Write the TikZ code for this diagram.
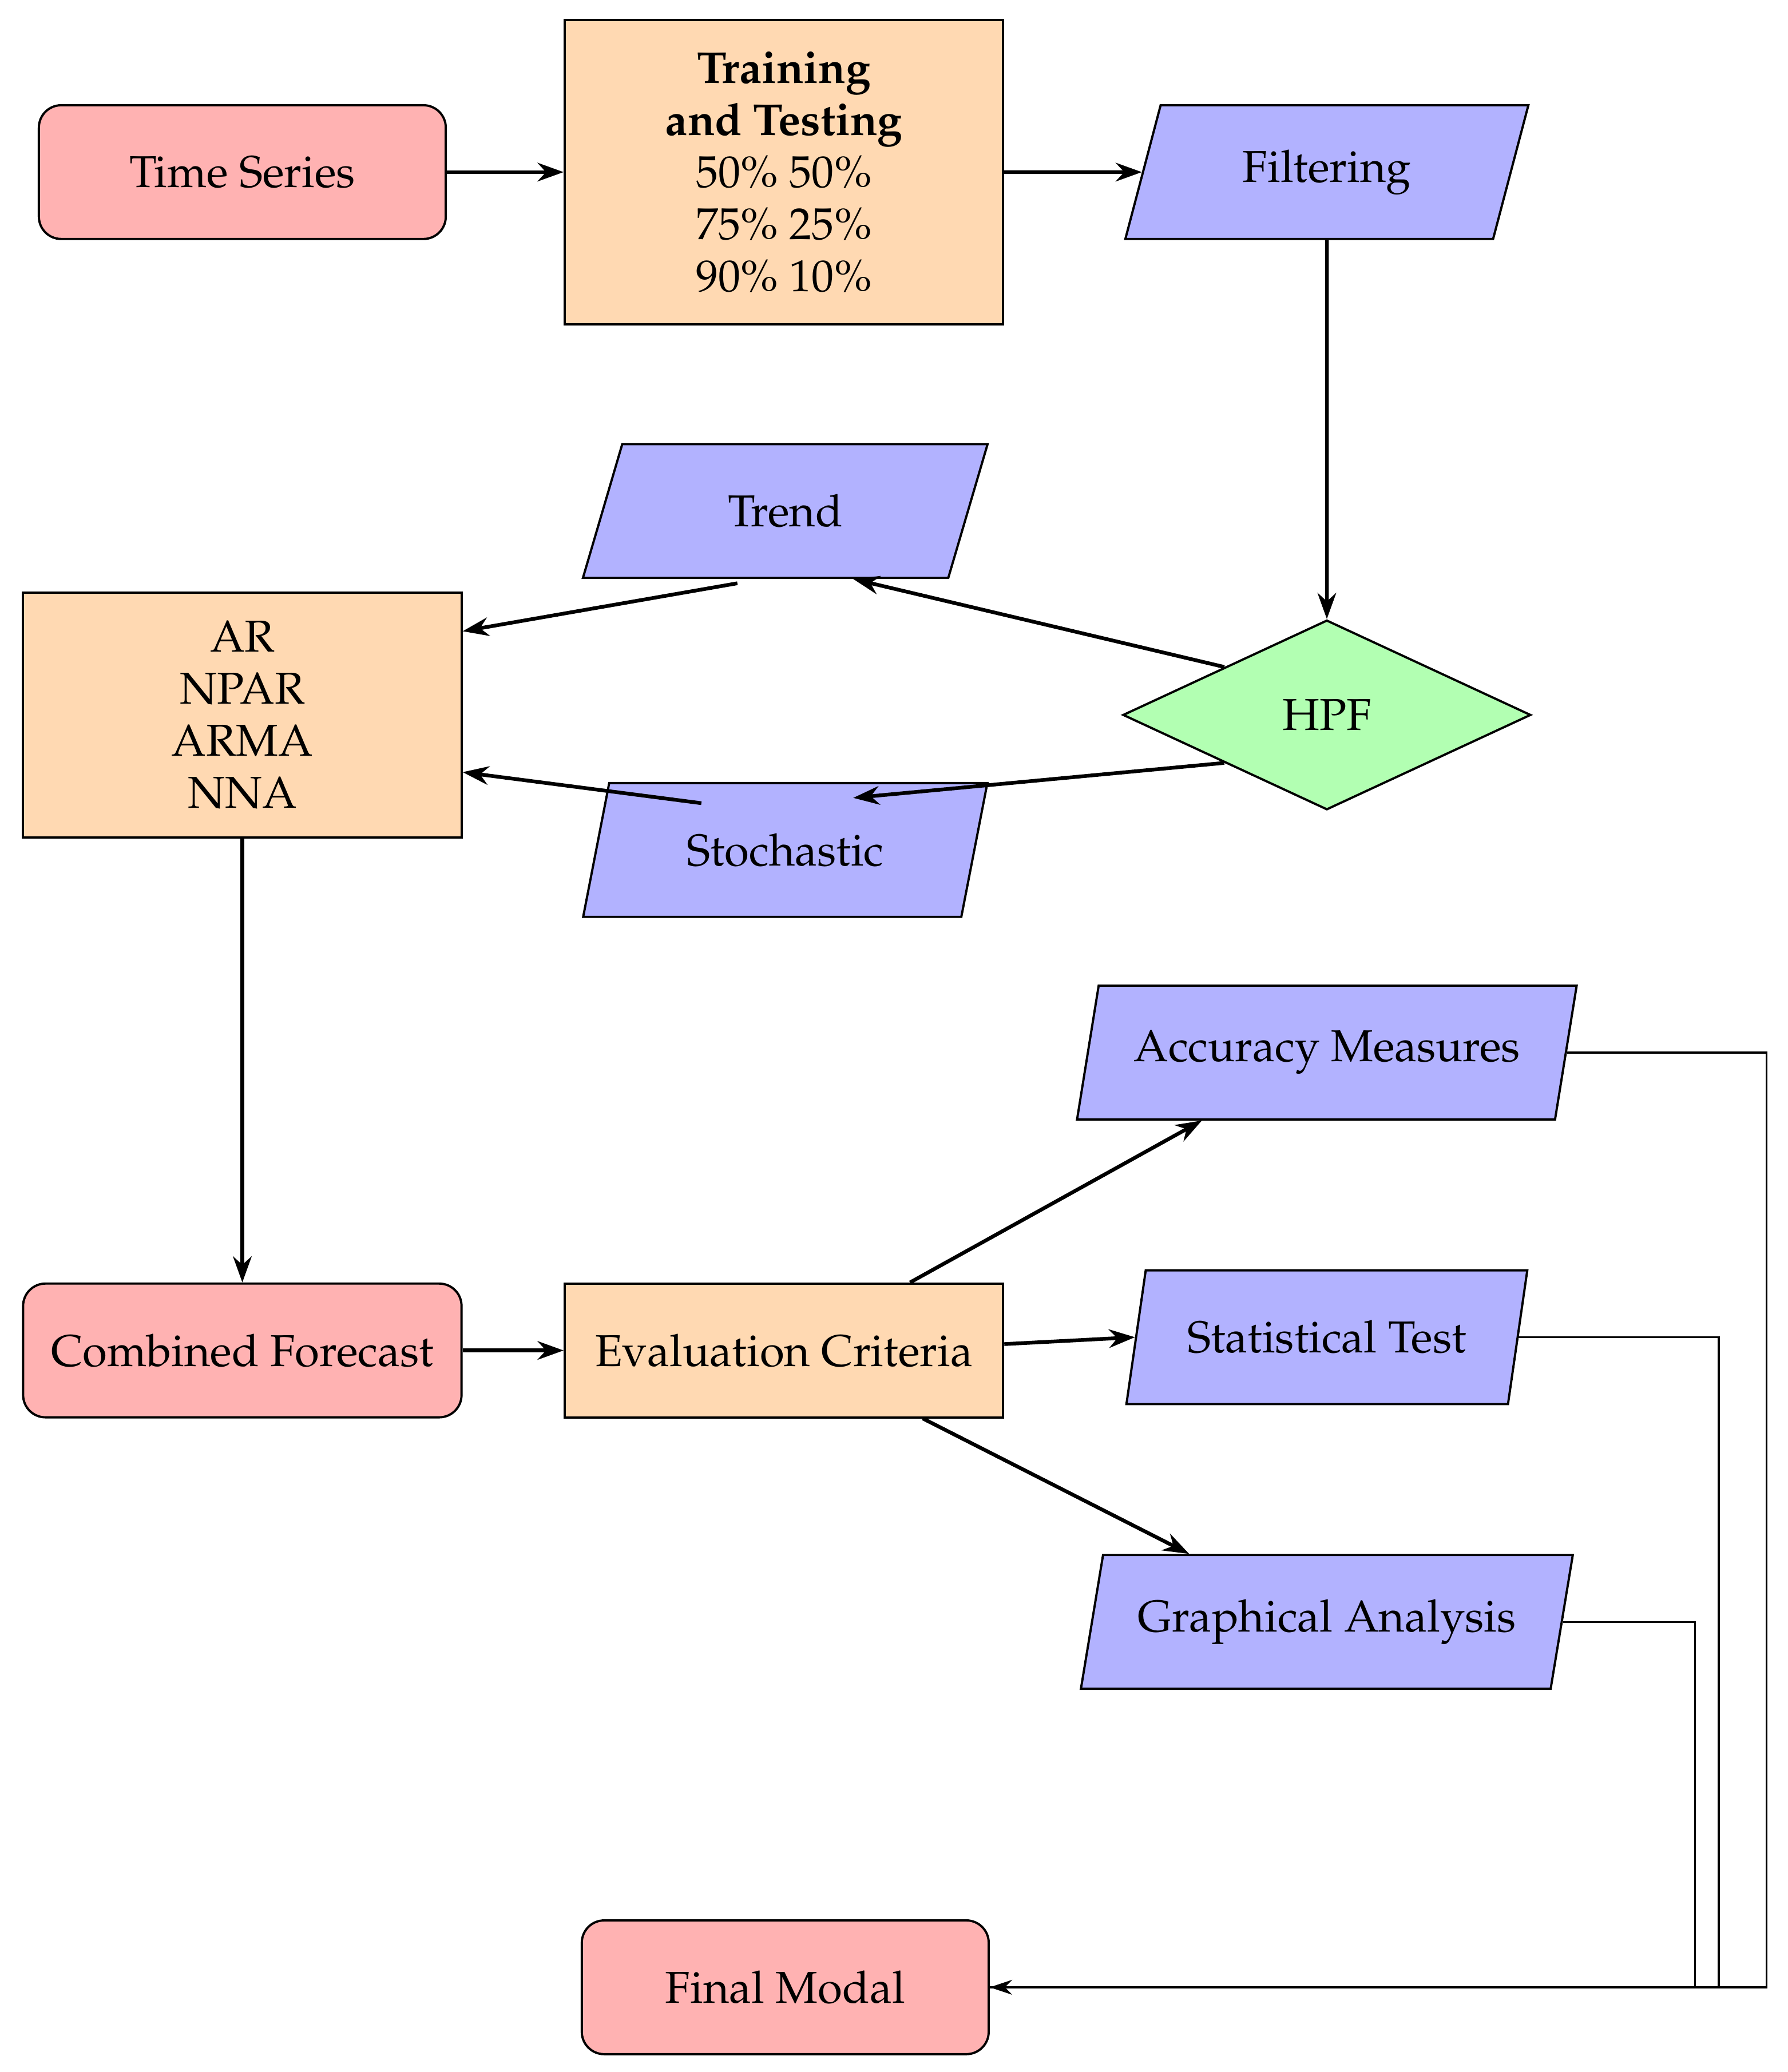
\documentclass[tikz,border=0pt]{standalone}
\usepackage[T1]{fontenc}
\usepackage{mathpazo}
\usetikzlibrary{shapes.geometric,arrows.meta,calc}
\begin{document}
\begin{tikzpicture}[x=0.0125cm,y=-0.0125cm,font=\large,
  base/.style={draw,line width=0.6pt,align=center,inner sep=2pt},
  term/.style={base,rectangle,rounded corners=6pt,fill=red!30,minimum width=3.84cm,minimum height=1.2625cm},
  proc/.style={base,rectangle,fill=orange!30,minimum width=4.1375cm},
  io/.style={base,trapezium,trapezium left angle=72,trapezium right angle=108,trapezium stretches=true,fill=blue!30,minimum width=3.82cm,minimum height=1.2625cm},
  dec/.style={base,diamond,fill=green!30,minimum width=3.85cm,minimum height=1.79cm},
  arr/.style={-{Stealth[length=7pt,width=5pt]},line width=1pt},
  thinarr/.style={-{Stealth[length=6pt,width=4pt]},line width=0.5pt}]
\useasboundingbox (0,0) rectangle (1350,1565);
\node[term] (ts) at (183,130) {Time Series};
\node[proc,minimum height=2.875cm] (tt) at (592,130) {\textbf{Training}\\\textbf{and Testing}\\50\% 50\%\\75\% 25\%\\90\% 10\%};
\node[io] (filt) at (1002,130) {Filtering};
\node[io] (trend) at (593,386) {Trend};
\node[proc,minimum height=2.31cm] (ar) at (183,540) {AR\\NPAR\\ARMA\\NNA};
\node[dec] (hpf) at (1002,540) {HPF};
\node[io] (stoch) at (593,642) {Stochastic};
\node[io,minimum width=4.72cm] (acc) at (1002,795) {Accuracy Measures};
\node[term,minimum width=4.1375cm] (comb) at (183,1020) {Combined Forecast};
\node[proc,minimum height=1.2625cm] (eval) at (592,1020) {Evaluation Criteria};
\node[io,minimum width=3.8cm] (stat) at (1002,1010) {Statistical Test};
\node[io,minimum width=4.65cm] (graph) at (1002,1225) {Graphical Analysis};
\node[term] (fin) at (593,1501) {Final Modal};
\coordinate (c1) at (1334,1501);
\coordinate (c2) at (1298,1501);
\coordinate (c3) at (1280,1501);
\draw[arr] (ts) -- (tt);
\draw[arr] (tt.east |- filt) -- (filt);
\draw[arr] (filt) -- (hpf);
\draw[arr] (hpf.north west) -- (trend.south east);
\draw[arr] (hpf.south west) -- ([yshift=-0.15cm]stoch.north east);
\draw[arr] ([xshift=0.19cm,yshift=-0.04cm]trend.south west) -- ([yshift=0.79cm]ar.east);
\draw[arr] ([xshift=-0.15cm,yshift=-0.2cm]stoch.north west) -- ([yshift=-0.54cm]ar.east);
\draw[arr] (ar) -- (comb);
\draw[arr] (comb) -- (eval);
\draw[arr] ([xshift=1.19cm]eval.north) -- ([xshift=-1.18cm]acc.south);
\draw[arr] ([yshift=0.06cm]eval.east) -- (stat.west);
\draw[arr] ([xshift=1.31cm]eval.south) -- ([xshift=-1.3cm]graph.north);
\draw[line width=0.5pt] (acc.east) -| (c1) -- (fin.east);
\draw[line width=0.5pt] (stat.east) -| (c2);
\draw[line width=0.5pt] (graph.east) -| (c3);
\draw[thinarr] (c3) -- (fin.east);
\end{tikzpicture}
\end{document}
